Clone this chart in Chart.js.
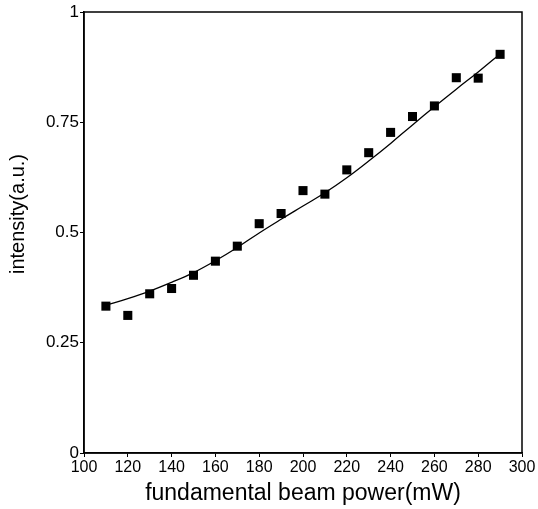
<!DOCTYPE html>
<html>
<head>
<meta charset="utf-8">
<script src="https://cdn.jsdelivr.net/npm/chart.js@4/dist/chart.umd.min.js"></script>
<style>
    html, body { margin: 0; padding: 0; background: #fff; }
    #wrap { width: 538px; height: 509px; }
</style>
</head>
<body>
<div id="wrap"><canvas id="powerChart"></canvas></div>
<script>
// measured points
const powerMw = [110, 120, 130, 140, 150, 160, 170, 180, 190, 200, 210, 220, 230, 240, 250, 260, 270, 280, 290];
const intensity = [0.333, 0.312, 0.361, 0.373, 0.403, 0.435, 0.469, 0.520, 0.543, 0.595, 0.587, 0.642, 0.681, 0.727, 0.763, 0.787, 0.851, 0.850, 0.904];

// fitted curve
const fitPower = [110, 120, 130, 140, 150, 160, 170, 180, 190, 200, 210, 220, 230, 240, 250, 260, 270, 280, 290];
const fitIntensity = [0.335, 0.350, 0.367, 0.387, 0.409, 0.436, 0.466, 0.499, 0.530, 0.560, 0.590, 0.624, 0.662, 0.702, 0.744, 0.785, 0.825, 0.864, 0.905];

const xTicks = [100, 120, 140, 160, 180, 200, 220, 240, 260, 280, 300];
const yTicks = [0, 0.25, 0.5, 0.75, 1];

const FONT = 'Liberation Sans, Arial, Helvetica, sans-serif';
const Y_TITLE = 'intensity(a.u.)';

// box around the plot area + the y title (sits a bit above centre in the original)
const frameBox = {
    id: 'frameBox',
    afterDraw(chart) {
        const a = chart.chartArea;
        const ctx = chart.ctx;
        ctx.save();
        ctx.strokeStyle = '#000';
        ctx.lineWidth = 1.5;
        ctx.strokeRect(a.left, a.top, a.right - a.left, a.bottom - a.top);

        ctx.translate(18, 214);
        ctx.rotate(-Math.PI / 2);
        ctx.fillStyle = '#000';
        ctx.font = '20px ' + FONT;
        ctx.textAlign = 'center';
        ctx.textBaseline = 'middle';
        ctx.fillText(Y_TITLE, 0, 0);
        ctx.restore();
    }
};

function toPoints(xs, ys) {
    return xs.map((x, i) => ({ x: x, y: ys[i] }));
}

const ctx = document.getElementById('powerChart').getContext('2d');

new Chart(ctx, {
    type: 'scatter',
    data: {
        datasets: [
            {
                label: 'fit',
                type: 'line',
                data: toPoints(fitPower, fitIntensity),
                borderColor: '#000',
                borderWidth: 1.3,
                pointRadius: 0,
                tension: 0.4,
                fill: false
            },
            {
                label: 'data',
                data: toPoints(powerMw, intensity),
                pointStyle: 'rect',
                pointRadius: 6.4,
                backgroundColor: '#000',
                borderColor: '#000',
                borderWidth: 0
            }
        ]
    },
    plugins: [frameBox],
    options: {
        responsive: true,
        maintainAspectRatio: false,
        animation: false,
        layout: {
            padding: { top: 12, right: 16, left: 0, bottom: 0 }
        },
        plugins: {
            legend: { display: false },
            tooltip: { enabled: false }
        },
        scales: {
            x: {
                type: 'linear',
                min: 100,
                max: 300,
                afterBuildTicks: function(scale) {
                    scale.ticks = xTicks.map(v => ({ value: v }));
                },
                afterFit: function(scale) {
                    scale.height = 56;
                },
                grid: {
                    drawOnChartArea: false,
                    tickLength: 4,
                    color: '#000',
                    tickWidth: 1
                },
                border: { color: '#000', width: 1.5 },
                ticks: {
                    color: '#000',
                    padding: 1,
                    maxRotation: 0,
                    callback: v => String(v),
                    font: { family: FONT, size: 16 }
                },
                title: {
                    display: true,
                    text: 'fundamental beam power(mW)',
                    color: '#000',
                    padding: { top: 0, bottom: 2 },
                    font: { family: FONT, size: 23 }
                }
            },
            y: {
                type: 'linear',
                min: 0,
                max: 1,
                afterBuildTicks: function(scale) {
                    scale.ticks = yTicks.map(v => ({ value: v }));
                },
                afterFit: function(scale) {
                    scale.width = 84;
                },
                grid: {
                    drawOnChartArea: false,
                    tickLength: 4,
                    color: '#000',
                    tickWidth: 1
                },
                border: { color: '#000', width: 1.5 },
                ticks: {
                    color: '#000',
                    padding: 1,
                    callback: v => String(v),
                    font: { family: FONT, size: 17 }
                },
                title: { display: false }
            }
        }
    }
});
</script>
</body>
</html>
